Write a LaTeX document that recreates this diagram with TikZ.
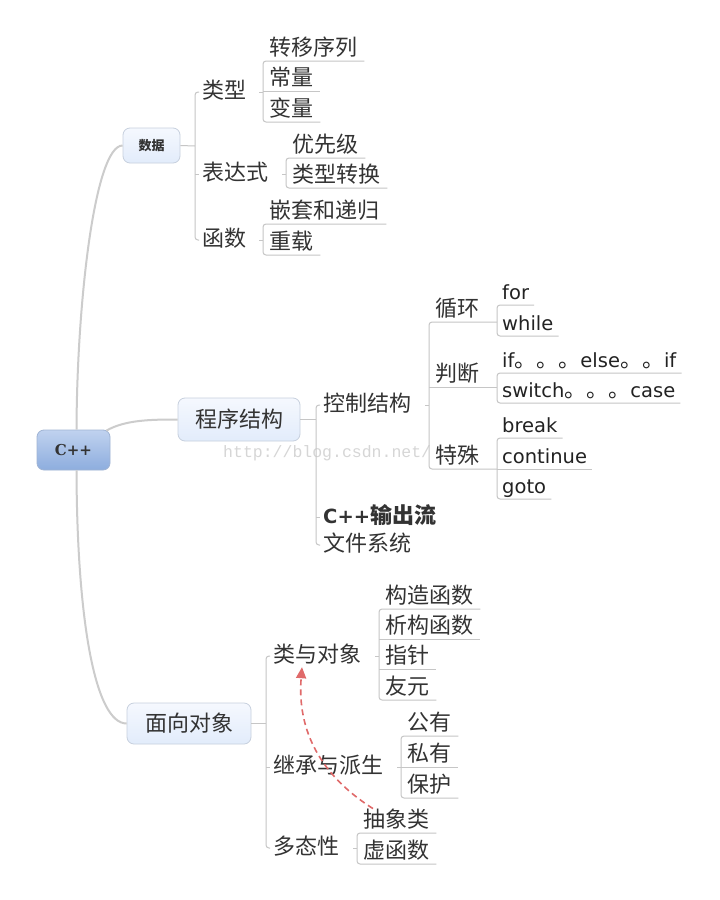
\documentclass[tikz,border=0pt]{standalone}
\usepackage{fontspec}
\setmainfont{DejaVu Sans}
\newfontfamily\cjk{Noto Sans CJK SC}
\newfontfamily\lat{DejaVu Sans}
\newfontfamily\serifb{DejaVu Serif}
\newfontfamily\wmfont{Liberation Mono}
\usetikzlibrary{arrows.meta,calc}
\newcommand\zd[1]{{\cjk\fontsize{22}{26}\selectfont #1}}
\definecolor{linec}{HTML}{C6C6C6}
\definecolor{mainc}{HTML}{CCCCCC}
\definecolor{textc}{HTML}{333333}
\definecolor{latc}{HTML}{222222}
\definecolor{boxtop}{HTML}{F5F8FE}
\definecolor{boxbot}{HTML}{E2ECFB}
\definecolor{boxborder}{HTML}{C7D0DE}
\definecolor{roottop}{HTML}{C0D2EF}
\definecolor{rootbot}{HTML}{8DADDE}
\definecolor{rootborder}{HTML}{A0B4D4}
\definecolor{arrc}{HTML}{E06A6A}
\definecolor{wmc}{HTML}{D6D6D6}
\tikzset{
  txt/.style={inner xsep=3pt, inner ysep=0pt, text height=17pt, text depth=5pt, anchor=west, text=textc, font=\cjk\fontsize{22}{26}\selectfont},
  leaf/.style={inner xsep=6.5pt, inner ysep=0pt, text height=16pt, text depth=5pt, anchor=south west, text=textc, font=\cjk\fontsize{22}{26}\selectfont},
  lat/.style={inner xsep=5pt, text=latc, font=\lat\fontsize{19.5}{24}\selectfont},
  ln/.style={draw=linec, line width=1pt},
  br/.style={ln, rounded corners=3pt},
  mainln/.style={draw=mainc, line width=2pt},
  topic/.style={rounded corners=7pt, draw=boxborder, line width=0.8pt, top color=boxtop, bottom color=boxbot, text=textc, inner sep=0pt, font=\cjk\fontsize{22}{26}\selectfont},
  rootbox/.style={rounded corners=7pt, draw=rootborder, line width=0.8pt, top color=roottop, bottom color=rootbot, text=textc, inner sep=0pt, font=\serifb\bfseries\fontsize{15}{18}\selectfont},
  redarr/.style={draw=arrc, line width=1.6pt, dash pattern=on 6pt off 4pt, -{Triangle[length=11pt,width=10pt,fill=arrc]}},
  wm/.style={anchor=base west, inner sep=0pt, text=wmc, font=\wmfont\fontsize{16.5}{20}\selectfont}
}
\begin{document}
\begin{tikzpicture}[x=1pt,y=-1pt]
\useasboundingbox (0,0) rectangle (720,900);
\fill[white] (0,0) rectangle (720,900);
\node[wm] (wm) at (223,457) {http://blog.csdn.net/};

% main topics
\node[rootbox, minimum width=73pt, minimum height=40pt] (root) at (73.5,450) {C++};
\node[topic, minimum width=57pt, minimum height=35pt, font=\cjk\bfseries\fontsize{13}{16}\selectfont] (sj) at (151.5,145.5) {数据};
\node[topic, minimum width=122pt, minimum height=43pt] (cx) at (239,419.5) {程序结构};
\node[topic, minimum width=124pt, minimum height=41pt] (mx) at (189,723.5) {面向对象};

% level 2
\node[txt] (lx) at (199,92) {类型};
\node[txt] (bds) at (199,174) {表达式};
\node[txt] (hs) at (199,240) {函数};
\node[txt] (kz) at (320,405) {控制结构};
\node[txt] (sc) at (320,517) {{\lat\bfseries\fontsize{19.5}{24}\selectfont C++}{\bfseries 输出流}};
\node[txt] (wj) at (320,545) {文件系统};
\node[txt] (ld) at (270,656) {类与对象};
\node[txt] (jc) at (270,767) {继承与派生};
\node[txt] (dt) at (270,848) {多态性};

% leaves: data
\node[leaf] (zy) at (263,61) {转移序列};
\node[leaf] (cl) at (263,91) {常量};
\node[leaf] (bl) at (263,122) {变量};
\node[leaf] (yx) at (286,158) {优先级};
\node[leaf] (lz) at (286,188) {类型转换};
\node[leaf] (qt) at (263,224) {嵌套和递归};
\node[leaf] (zz) at (263,255) {重载};

% control structure
\node[leaf, inner xsep=6pt] (xh) at (429,322) {循环};
\node[leaf, inner xsep=6pt] (pd) at (429,387) {判断};
\node[leaf, inner xsep=6pt] (ts) at (429,469) {特殊};
\node[leaf, lat] (for) at (497,305) {for};
\node[leaf, lat] (wh) at (497,336) {while};
\node[leaf, lat] (ifn) at (497,373) {if\zd{。。。}else\zd{。。}if};
\node[leaf, lat] (sw) at (497,403) {switch\zd{。。。}case};
\node[leaf, lat] (bk) at (497,438) {break};
\node[leaf, lat] (ct) at (497,469) {continue};
\node[leaf, lat] (gt) at (497,499) {goto};

% object oriented
\node[leaf] (gz) at (379,609) {构造函数};
\node[leaf] (xg) at (379,639) {析构函数};
\node[leaf] (zz2) at (379,669) {指针};
\node[leaf] (yy) at (379,700) {友元};
\node[leaf] (gy) at (401,736) {公有};
\node[leaf] (sy) at (401,767) {私有};
\node[leaf] (bh) at (401,798) {保护};
\node[leaf] (cxl) at (357,833) {抽象类};
\node[leaf] (xhs) at (357,864) {虚函数};

% root connectors
\draw[mainln] ($(root.north)+(3,0)$) .. controls (77,300) and (95,145.5) .. (sj.west);
\draw[mainln] ($(root.south)+(3,0)$) .. controls (77,620) and (95,723.5) .. (mx.west);
\draw[mainln] ($(root.north east)+(-4,1)$) .. controls (125,420) and (150,419.5) .. (cx.west);

% data branch
\coordinate (b1) at (195,146);
\draw[ln] (sj.east) -- (b1);
\draw[br] (lx.west) -| (b1) |- (hs.west);
\draw[ln] (b1 |- bds.west) -- (bds.west);
\draw[ln] ([xshift=10pt]lx.east) -- (lx.east -| zy.south west);
\draw[br] (zy.south east) -- (zy.south west) -- (bl.south west) -- (bl.south east);
\draw[ln] (cl.south west) -- (cl.south east);
\draw[ln] ([xshift=11pt]bds.east) -- (bds.east -| yx.south west);
\draw[br] (yx.south east) -- (yx.south west) -- (lz.south west) -- (lz.south east);
\draw[ln] ([xshift=10pt]hs.east) -- (hs.east -| qt.south west);
\draw[br] (qt.south east) -- (qt.south west) -- (zz.south west) -- (zz.south east);

% program structure branch
\coordinate (b2) at (316,419.5);
\draw[ln] (cx.east) -- (b2);
\draw[br] (kz.west) -| (b2) |- (wj.west);
\draw[ln] (b2 |- sc.west) -- (sc.west);
\draw[ln] ([xshift=11pt]kz.east) -- (kz.east -| xh.south west);
\draw[br] (xh.south -| for.south west) -- (xh.south west) -- (ts.south west) -- (ts.south -| ct.south west);
\draw[ln] (pd.south west) -- (pd.south -| ifn.south west);
\draw[br] (for.south east) -- (for.south west) -- (wh.south west) -- (wh.south east);
\draw[br] (ifn.south east) -- (ifn.south west) -- (sw.south west) -- (sw.south east);
\draw[br] (bk.south east) -- (bk.south west) -- (gt.south west) -- (gt.south east);
\draw[ln] (ct.south west) -- (ct.south east);

% object oriented branch
\coordinate (b3) at (266,723.5);
\draw[ln] (mx.east) -- (b3);
\draw[br] (ld.west) -| (b3) |- (dt.west);
\draw[ln] (b3 |- jc.west) -- (jc.west);
\draw[ln] ([xshift=11pt]ld.east) -- (ld.east -| gz.south west);
\draw[br] (gz.south east) -- (gz.south west) -- (yy.south west) -- (yy.south east);
\draw[ln] (xg.south west) -- (xg.south east);
\draw[ln] (zz2.south west) -- (zz2.south east);
\draw[ln] ([xshift=11pt]jc.east) -- (jc.east -| gy.south west);
\draw[br] (gy.south east) -- (gy.south west) -- (bh.south west) -- (bh.south east);
\draw[ln] (sy.south west) -- (sy.south east);
\draw[ln] ([xshift=11pt]dt.east) -- (dt.east -| cxl.south west);
\draw[br] (cxl.south east) -- (cxl.south west) -- (xhs.south west) -- (xhs.south east);

% dashed red relation
\draw[redarr] ($(cxl.north west)+(16,-3)$) .. controls (320,775) and (297,730) .. ($(ld.south west)+(32,0)$);
\end{tikzpicture}
\end{document}
